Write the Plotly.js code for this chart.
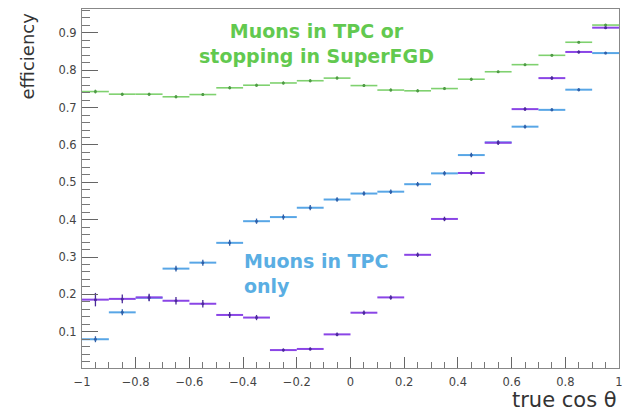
<!DOCTYPE html>
<html>
<head>
<meta charset="utf-8">
<script src="https://cdn.plot.ly/plotly-3.0.1.min.js"></script>
<style>
  html, body { margin: 0; padding: 0; background: #ffffff; }
  #chart { width: 641px; height: 411px; }
</style>
</head>
<body>
<div id="chart"></div>
<script>
// Bin centres of true cos(theta), 20 bins of width 0.1
const binCenters = [-0.95, -0.85, -0.75, -0.65, -0.55, -0.45, -0.35, -0.25, -0.15, -0.05,
                     0.05,  0.15,  0.25,  0.35,  0.45,  0.55,  0.65,  0.75,  0.85,  0.95];
const binHalfWidth = 0.05;

// Efficiency: muons in TPC or stopping in SuperFGD
const effTpcOrSfgd = [0.743, 0.736, 0.736, 0.729, 0.735, 0.753, 0.760, 0.766, 0.772, 0.779,
                      0.759, 0.747, 0.745, 0.751, 0.776, 0.796, 0.815, 0.840, 0.875, 0.921];
const errTpcOrSfgd = [0.005, 0.004, 0.004, 0.004, 0.004, 0.004, 0.004, 0.004, 0.004, 0.004,
                      0.004, 0.004, 0.004, 0.004, 0.004, 0.003, 0.003, 0.003, 0.003, 0.003];

// Efficiency: muons in TPC only
const effTpcOnly = [0.080, 0.152, 0.191, 0.269, 0.285, 0.338, 0.396, 0.407, 0.432, 0.454,
                    0.470, 0.475, 0.495, 0.524, 0.573, 0.607, 0.649, 0.694, 0.748, 0.846];
const errTpcOnly = [0.008, 0.008, 0.008, 0.008, 0.008, 0.008, 0.007, 0.007, 0.007, 0.006,
                    0.006, 0.006, 0.006, 0.006, 0.006, 0.005, 0.005, 0.004, 0.004, 0.003];

// Third selection (violet)
const effViolet = [0.186, 0.188, 0.192, 0.183, 0.175, 0.145, 0.138, 0.051, 0.054, 0.093,
                   0.151, 0.192, 0.306, 0.402, 0.525, 0.606, 0.696, 0.779, 0.849, 0.914];
const errViolet = [0.018, 0.012, 0.010, 0.010, 0.010, 0.008, 0.007, 0.004, 0.004, 0.005,
                   0.006, 0.006, 0.006, 0.006, 0.006, 0.006, 0.005, 0.005, 0.004, 0.003];

const xTickVals = [-1, -0.8, -0.6, -0.4, -0.2, 0, 0.2, 0.4, 0.6, 0.8, 1];
const xTickText = ['\u22121', '\u22120.8', '\u22120.6', '\u22120.4', '\u22120.2', '0', '0.2', '0.4', '0.6', '0.8', '1'];
const yTickVals = [0.1, 0.2, 0.3, 0.4, 0.5, 0.6, 0.7, 0.8, 0.9];
const yTickText = ['0.1', '0.2', '0.3', '0.4', '0.5', '0.6', '0.7', '0.8', '0.9'];

function histTrace(y, err, barColor, tickColor, barWidth) {
  return {
    type: 'scatter',
    mode: 'markers',
    x: binCenters,
    y: y,
    marker: { size: 3, color: tickColor },
    error_x: { type: 'constant', value: binHalfWidth, width: 0, thickness: barWidth, color: barColor },
    error_y: { type: 'data', array: err, visible: true, width: 0, thickness: 1.3, color: tickColor },
    hoverinfo: 'x+y',
    showlegend: false
  };
}

const traces = [
  histTrace(effTpcOrSfgd, errTpcOrSfgd, '#7fd16f', '#4f9a45', 1.6),
  histTrace(effTpcOnly, errTpcOnly, '#58a6e6', '#2f5fa8', 2),
  histTrace(effViolet, errViolet, '#8a45e6', '#4b2a9a', 2)
];

const axisFont = { family: 'DejaVu Sans, sans-serif', size: 11.5, color: '#444' };

const layout = {
  width: 641,
  height: 411,
  margin: { l: 82, r: 22, t: 9, b: 43 },
  paper_bgcolor: '#ffffff',
  plot_bgcolor: '#ffffff',
  showlegend: false,
  xaxis: {
    range: [-1, 1],
    tickvals: xTickVals,
    ticktext: xTickText,
    ticks: 'inside',
    ticklen: 11,
    tickwidth: 1,
    tickcolor: '#666',
    minor: { dtick: 0.05, tick0: -1, ticks: 'inside', ticklen: 6, tickcolor: '#777', tickwidth: 1 },
    showline: true,
    mirror: true,
    linecolor: '#888',
    linewidth: 1,
    showgrid: false,
    zeroline: false,
    tickfont: axisFont,
    ticklabelstandoff: 3
  },
  yaxis: {
    range: [0.003, 0.964],
    tickvals: yTickVals,
    ticktext: yTickText,
    ticks: 'inside',
    ticklen: 16,
    tickwidth: 1,
    tickcolor: '#666',
    minor: { dtick: 0.02, tick0: 0, ticks: 'inside', ticklen: 8, tickcolor: '#777', tickwidth: 1 },
    showline: true,
    mirror: true,
    linecolor: '#888',
    linewidth: 1,
    showgrid: false,
    zeroline: false,
    tickfont: axisFont,
    ticklabelstandoff: 2
  },
  annotations: [
    {
      text: 'efficiency',
      xref: 'paper', yref: 'paper',
      x: -0.1006, y: 0.997,
      xanchor: 'center', yanchor: 'top',
      textangle: -90,
      showarrow: false,
      font: { family: 'DejaVu Sans, sans-serif', size: 18, color: '#333' }
    },
    {
      text: 'true cos \u03b8',
      xref: 'paper', yref: 'paper',
      x: 1, y: -0.089,
      xanchor: 'right', yanchor: 'middle',
      showarrow: false,
      font: { family: 'DejaVu Sans, sans-serif', size: 21, color: '#333' }
    },
    {
      text: '<b>Muons in TPC or<br>stopping in SuperFGD</b>',
      xref: 'paper', yref: 'paper',
      x: 0.4376, y: 0.904,
      xanchor: 'center', yanchor: 'middle',
      align: 'center',
      showarrow: false,
      font: { family: 'DejaVu Sans, sans-serif', size: 19, color: '#62c94f' }
    },
    {
      text: '<b>Muons in TPC<br>only</b>',
      xref: 'paper', yref: 'paper',
      x: 0.298, y: 0.263,
      xanchor: 'left', yanchor: 'middle',
      align: 'left',
      showarrow: false,
      font: { family: 'DejaVu Sans, sans-serif', size: 19, color: '#5aaee3' }
    }
  ]
};

Plotly.newPlot('chart', traces, layout, { displayModeBar: false, staticPlot: true });
</script>
</body>
</html>
